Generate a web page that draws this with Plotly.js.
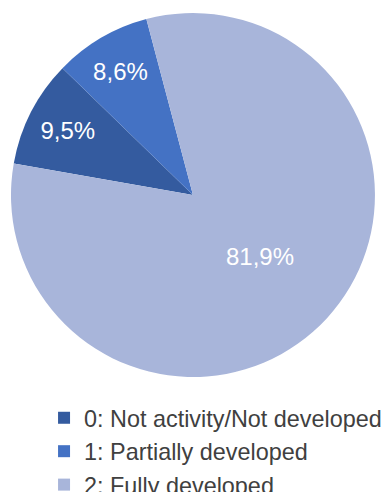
<!DOCTYPE html>
<html>
<head>
<meta charset="utf-8">
<script src="https://cdn.plot.ly/plotly-3.0.1.min.js"></script>
<style>html,body{margin:0;padding:0;background:#fff;}#chart{width:383px;height:492px;}</style>
</head>
<body>
<div id="chart"></div>
<script>
const categories = ["0: Not activity/Not developed", "1: Partially developed", "2: Fully developed"];
const values = [9.5, 8.6, 81.9];
const labelsText = ["9,5%", "8,6%", "81,9%"];
const colors = ["#345B9F", "#4472C4", "#A8B5DA"];

const trace = {
  type: "pie",
  labels: categories,
  values: values,
  text: labelsText,
  textinfo: "text",
  textposition: "inside",
  insidetextorientation: "horizontal",
  insidetextfont: {color: "#ffffff", size: 24, family: "Liberation Sans, Arial, sans-serif"},
  sort: false,
  direction: "clockwise",
  rotation: -80,
  marker: {colors: colors, line: {color: "#ffffff", width: 0}},
  domain: {x: [0.0287, 0.979], y: [0.2337, 0.9736]},
  hoverinfo: "none"
};

const layout = {
  width: 383, height: 492,
  margin: {l: 0, r: 0, t: 0, b: 0, autoexpand: false},
  paper_bgcolor: "#ffffff",
  showlegend: true,
  legend: {
    x: 0.115, y: 0.195, xanchor: "left", yanchor: "top",
    font: {size: 23.4, color: "#404040", family: "Liberation Sans, Arial, sans-serif"},
    orientation: "v",
    bgcolor: "rgba(0,0,0,0)"
  },
  font: {family: "Liberation Sans, Arial, sans-serif"}
};

Plotly.newPlot("chart", [trace], layout, {displayModeBar: false, staticPlot: true});
</script>
</body>
</html>
